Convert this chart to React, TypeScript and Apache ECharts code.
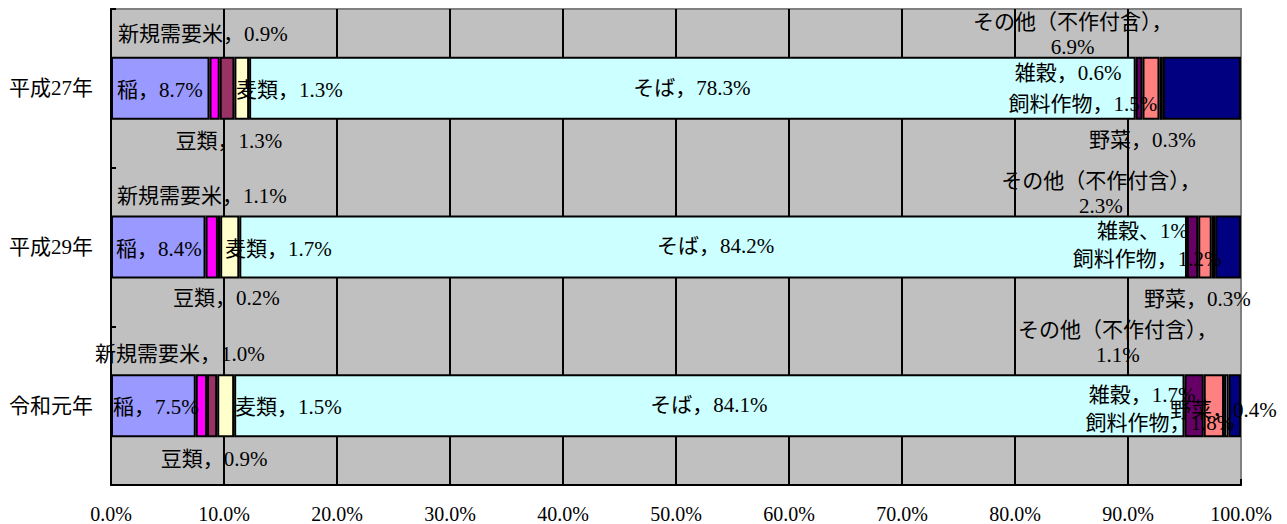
import React, { useEffect, useRef } from "react";
import * as echarts from "echarts";

// Categories (top to bottom)
const years = ["平成27年", "平成29年", "令和元年"];

// Crop groups, in stacking order from the left
const crops = ["稲", "新規需要米", "豆類", "麦類", "そば", "雑穀", "飼料作物", "野菜", "その他（不作付含）"];
const cropColors = ["#9999FF", "#FF00FF", "#993366", "#FFFFCC", "#CCFFFF", "#660066", "#FF8080", "#CCCCFF", "#000080"];

// Share of planted area (%) per crop, one value per year
const ine = [8.7, 8.4, 7.5];
const shinkiJuyoMai = [0.9, 1.1, 1.0];
const mameRui = [1.3, 0.2, 0.9];
const mugiRui = [1.3, 1.7, 1.5];
const soba = [78.3, 84.2, 84.1];
const zakkoku = [0.6, 1, 1.7];
const shiryoSakumotsu = [1.5, 1.2, 1.8];
const yasai = [0.3, 0.3, 0.4];
const sonota = [6.9, 2.3, 1.1];

const shares = [ine, shinkiJuyoMai, mameRui, mugiRui, soba, zakkoku, shiryoSakumotsu, yasai, sonota];

// Axis tick values (percent)
const xTickStep = 10;

// Label anchors: [axis value (%), vertical offset from bar centre (px), text alignment]
type Anchor = [number, number, "left" | "center" | "right"];
const labelAnchors: Anchor[][] = [
  [[0.53, 1.5, "left"], [0.44, 1.5, "left"], [0.18, 1.5, "left"]],
  [[0.62, -54.5, "left"], [0.53, -51.5, "left"], [6.1, -51.5, "center"]],
  [[10.44, 52.5, "center"], [10.22, 50.5, "center"], [9.12, 53.5, "center"]],
  [[11.06, 2, "left"], [10.09, 1.5, "left"], [10.97, 1.5, "left"]],
  [[51.4, 0, "center"], [53.5, -1.5, "center"], [52.9, -0.5, "center"]],
  [[84.7, -15.5, "center"], [91.28, -16.5, "center"], [91.24, -10.5, "center"]],
  [[86.0, 15.5, "center"], [91.7, 11.5, "center"], [92.83, 17.5, "center"]],
  [[91.28, 51.5, "center"], [96.15, 51.5, "center"], [98.45, 4.5, "center"]],
  [[85.1, -53.5, "center"], [87.6, -54, "center"], [89.1, -63, "center"]],
];

const FONT = "'Liberation Serif', 'Noto Sans CJK JP', serif";

function labelText(s: number, c: number): string {
  const v = shares[s][c];
  // 雑穀 in 平成29年 is written as a whole number with an ideographic comma
  if (s === 5 && c === 1) return `${crops[s]}、${v}%`;
  if (s === 8) return `${crops[s]}，\n${v.toFixed(1)}%`;
  return `${crops[s]}，${v.toFixed(1)}%`;
}

export default function App() {
  const ref = useRef<HTMLDivElement>(null);

  useEffect(() => {
    if (!ref.current) return;
    const chart = echarts.init(ref.current, undefined, { renderer: "svg" });

    // 100% stacked: each year's segments are scaled to fill the axis
    const totals = years.map((_, c) => shares.reduce((sum, arr) => sum + arr[c], 0));

    const series = crops.map((name, s) => ({
      type: "bar",
      name,
      stack: "share",
      barWidth: 63,
      silent: true,
      data: shares[s].map((v, c) => (v / totals[c]) * 100),
      itemStyle: { color: cropColors[s], borderColor: "#000", borderWidth: 2 },
      label: {
        show: true,
        position: "inside",
        formatter: (p: any) => labelText(s, p.dataIndex),
        color: "#000",
        fontSize: 21,
        fontFamily: FONT,
        lineHeight: 25,
        textBorderWidth: 0,
      },
      labelLayout: (params: any) => {
        const [xv, dy, align] = labelAnchors[s][params.dataIndex];
        const px = chart.convertToPixel({ xAxisIndex: 0 }, xv) as number;
        return {
          x: px,
          y: params.rect.y + params.rect.height / 2 + dy,
          align,
          verticalAlign: "middle",
        };
      },
      emphasis: { disabled: true },
    }));

    chart.setOption({
      animation: false,
      backgroundColor: "#fff",
      grid: {
        left: 111,
        right: 46,
        top: 9,
        bottom: 39,
        show: true,
        backgroundColor: "#C0C0C0",
        borderColor: "#808080",
        borderWidth: 2,
      },
      xAxis: {
        type: "value",
        min: 0,
        max: 100,
        interval: xTickStep,
        axisLine: { show: true, lineStyle: { color: "#000", width: 2 } },
        axisTick: { show: true, inside: true, length: 6, lineStyle: { color: "#000", width: 2 } },
        splitLine: {
          show: true,
          showMinLine: false,
          showMaxLine: false,
          lineStyle: { color: "#000", width: 2 },
        },
        axisLabel: {
          color: "#000",
          fontSize: 20,
          fontFamily: FONT,
          margin: 19,
          formatter: (v: number) => `${v.toFixed(1)}%`,
        },
      },
      yAxis: {
        type: "category",
        inverse: true,
        data: years,
        axisLine: { show: true, lineStyle: { color: "#000", width: 2 } },
        axisTick: { show: true, inside: true, length: 5, lineStyle: { color: "#000", width: 2 } },
        splitLine: { show: false },
        axisLabel: { color: "#000", fontSize: 21, fontFamily: FONT, margin: 18 },
      },
      series,
    });

    return () => chart.dispose();
  }, []);

  return (
    <div
      ref={ref}
      style={{ position: "fixed", left: 0, top: 0, width: 1287, height: 524 }}
    />
  );
}
